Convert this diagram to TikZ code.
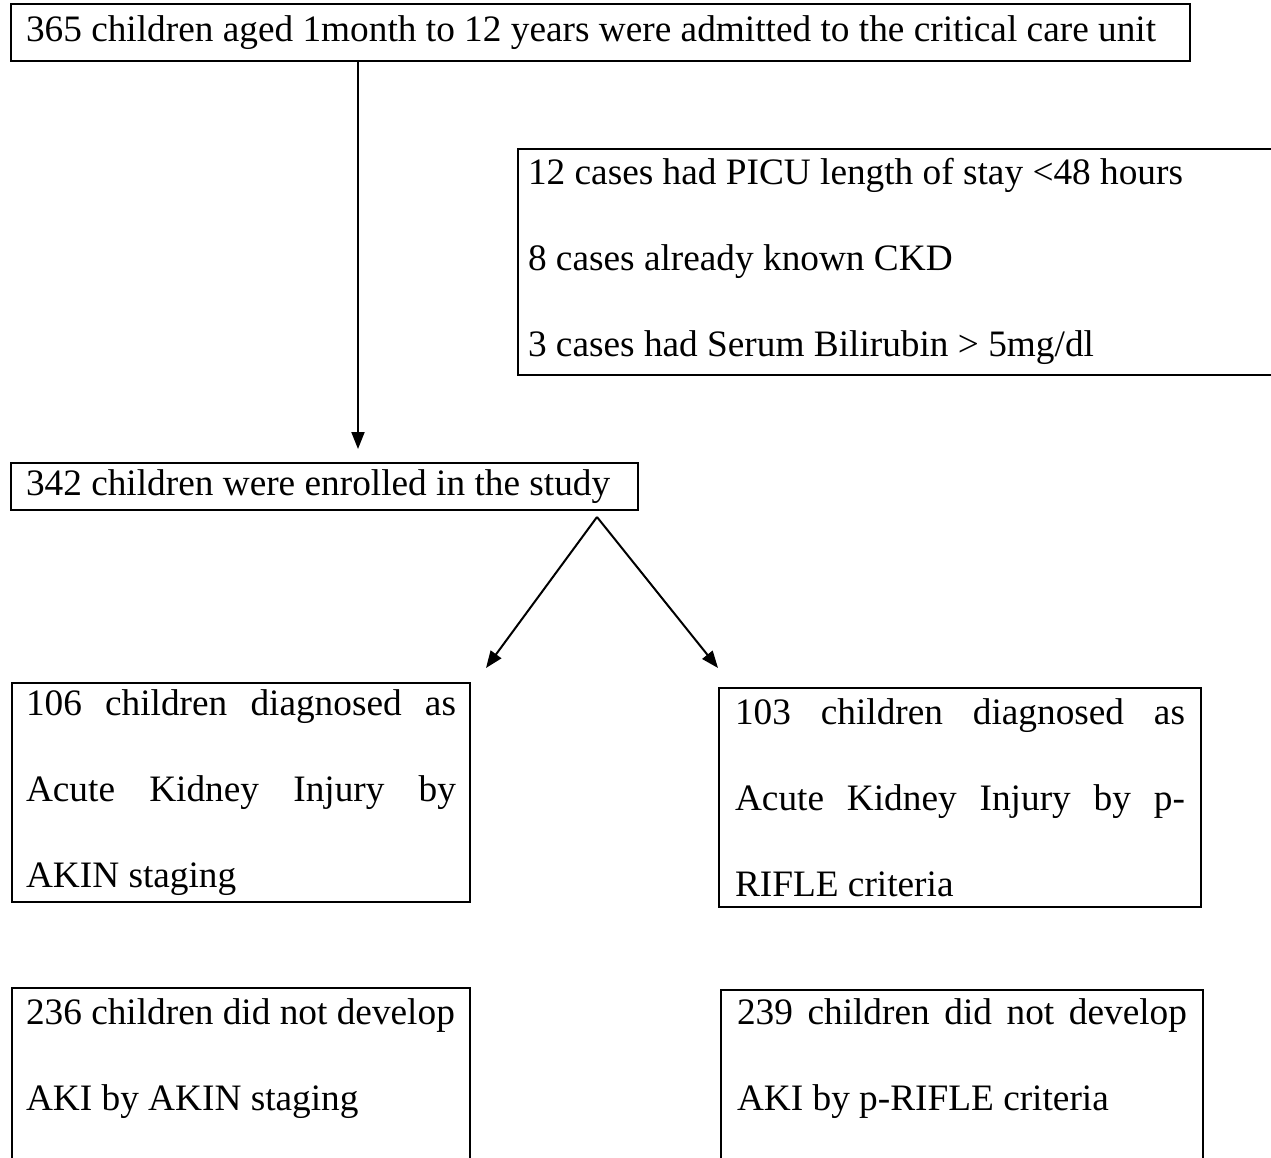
\documentclass[tikz,border=0pt]{standalone}
\usepackage{fontspec}
\setmainfont{Liberation Serif}
\usetikzlibrary{arrows.meta}
\begin{document}
\begin{tikzpicture}[x=1pt,y=-1pt,
  box/.style={draw, line width=2pt, anchor=north west, inner ysep=0pt, align=left,
    font=\fontsize{37.3}{86}\selectfont,
    execute at begin node={\spaceskip=0pt\xspaceskip=0pt\hyphenpenalty=10000\exhyphenpenalty=10000\relax}},
  arr/.style={-{Triangle[length=17pt,width=13pt]}, line width=2pt}]
\useasboundingbox (0,0) rectangle (1271,1158);
% boxes
\node[box, inner xsep=15pt, text width=1149pt, minimum height=57pt] (admit) at (10,3)
  {365 children aged 1month to 12 years were admitted to the critical care unit};
\node[box, inner xsep=10pt, text width=753pt, minimum height=226pt] (excl) at (517,148)
  {12 cases had PICU length of stay <48 hours\\8 cases already known CKD\\3 cases had Serum Bilirubin > 5mg/dl\rule[-10pt]{0pt}{1pt}};
\node[box, inner xsep=15pt, text width=597pt, minimum height=47pt] (enrol) at (10,462)
  {342 children were enrolled in the study};
\node[box, inner xsep=14pt, text width=430pt, minimum height=219pt] (akin) at (11,682)
  {106\hfill children\hfill diagnosed\hfill as\\Acute\hfill Kidney\hfill Injury\hfill by\\AKIN staging};
\node[box, inner xsep=16pt, text width=450pt, minimum height=219pt] (rifle) at (718,687)
  {103\hfill children\hfill diagnosed\hfill as\\Acute\hfill Kidney\hfill Injury\hfill by\hfill p-\\RIFLE criteria};
\node[box, inner xsep=14pt, text width=430pt, inner ysep=10.5pt] (noakin) at (11,987)
  {236 children did not develop\\AKI by AKIN staging\\\strut};
\node[box, inner xsep=16pt, text width=450pt, inner ysep=8.5pt] (norifle) at (720,989)
  {239\hfill children\hfill did\hfill not\hfill develop\\AKI by p-RIFLE criteria\\\strut};
% connectors
\coordinate (vtip) at (358,449);
\coordinate (fork) at (597,517);
\coordinate (ltip) at (486,668);
\coordinate (rtip) at (718,668);
\draw[arr] (admit.south -| vtip) -- (vtip);
\draw[arr] (fork) -- (ltip);
\draw[arr] (fork) -- (rtip);
\end{tikzpicture}
\end{document}
